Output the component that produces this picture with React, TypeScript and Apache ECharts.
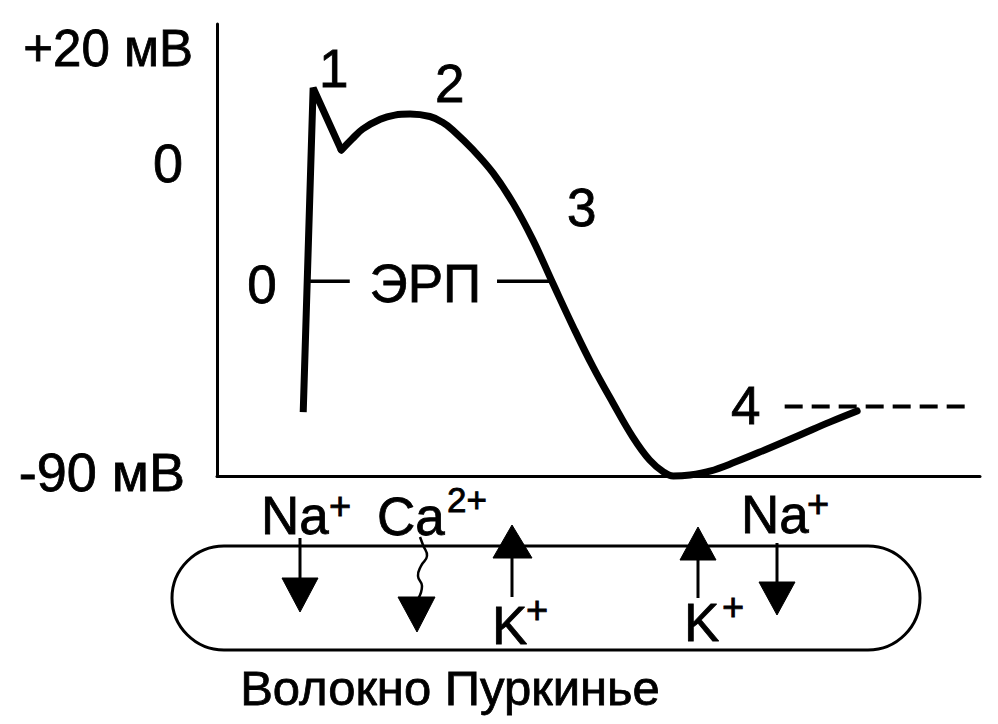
import React, { useEffect, useRef } from 'react';
import * as echarts from 'echarts';

const FONT = '"Liberation Sans", Arial, Helvetica, sans-serif';

// Purkinje fibre action potential: time (arbitrary units 0–100) vs membrane potential (mV)
const upstrokeAndNotch: [number, number][] = [
  [11.3, -71.6], [12.6, 21.6], [16.3, 3.7],
];
const plateauAndRepolarisation: [number, number][] = [
  [16.3, 3.7], [17.7, 6.9], [19.1, 9.8], [21.4, 12.6], [23.3, 13.8], [25.3, 14.1],
  [27.9, 13.4], [29.5, 11.8], [30.9, 9.5], [33.6, 3.7], [36.2, -2.9], [38.8, -11.5],
  [41.4, -22.1], [44.0, -34.5], [46.7, -47.2], [49.3, -58.7], [51.9, -69.0], [54.5, -78.8],
  [56.7, -85.4], [58.5, -88.8], [59.8, -90], [62.0, -89.7], [64.6, -88.6], [67.9, -86.0],
  [71.8, -82.5], [76.4, -78.2], [80.3, -74.5], [83.9, -71.3],
];
// Effective refractory period (ЭРП) markers
const erpLeft: [number, number][] = [[12.2, -34], [17.4, -34]];
const erpRight: [number, number][] = [[36.7, -34], [43.6, -34]];
// Threshold (dashed) line
const thresholdLine: [number, number][] = [[74.4, -70], [98.7, -70]];
// Phase labels
const annotationNames = ['0', '1', '2', '3', '4', 'ЭРП'];
const annotationPoints: [number, number][] = [
  [5.9, -34.8], [15.3, 27.3], [30.5, 23], [47.8, -12.9], [69.3, -69.6], [27.3, -34.5],
];
// Y tick labels
const yTickValues = [-90, 0, 33];
const yTickLabels = ['-90 мВ', '0', '+20 мВ'];

const X_MIN = 0;
const X_MAX = 100;
const Y_MIN = -90;
const Y_MAX = 40;

export default function App() {
  const ref = useRef<HTMLDivElement>(null);

  useEffect(() => {
    if (!ref.current) return;
    const chart = echarts.init(ref.current, undefined, { renderer: 'svg' });

    const black = '#000';
    const lineSeries = (data: [number, number][], width: number, extra: any = {}) => ({
      type: 'line',
      data,
      symbol: 'none',
      silent: true,
      clip: false,
      lineStyle: { color: black, width, ...(extra.lineStyle || {}) },
      ...Object.fromEntries(Object.entries(extra).filter(([k]) => k !== 'lineStyle')),
    });

    const txt = (text: string, x: number, y: number, size: number) => ({
      type: 'text',
      x,
      y,
      style: {
        text,
        fontSize: size,
        fontFamily: FONT,
        fill: black,
        stroke: black,
        lineWidth: 0.8,
        textAlign: 'left',
        textVerticalAlign: 'middle',
      },
    });
    const tri = (pts: number[][]) => ({
      type: 'polygon',
      shape: { points: pts },
      style: { fill: black, stroke: black, lineWidth: 1 },
    });
    const seg = (x1: number, y1: number, x2: number, y2: number, w = 3) => ({
      type: 'line',
      shape: { x1, y1, x2, y2 },
      style: { stroke: black, lineWidth: w },
    });

    const labelFont = { fontFamily: FONT, color: black, textBorderColor: black, textBorderWidth: 0.8 };

    const option: any = {
      animation: false,
      backgroundColor: '#fff',
      grid: { left: 217, right: 18, top: 24, bottom: 248, containLabel: false },
      xAxis: {
        type: 'value',
        min: X_MIN,
        max: X_MAX,
        axisLine: { show: true, onZero: false, lineStyle: { color: black, width: 3 } },
        axisTick: { show: false },
        axisLabel: { show: false },
        splitLine: { show: false },
      },
      yAxis: {
        type: 'value',
        min: Y_MIN,
        max: Y_MAX,
        axisLine: { show: true, onZero: false, lineStyle: { color: black, width: 3 } },
        axisTick: { show: false },
        splitLine: { show: false },
        axisLabel: {
          show: true,
          customValues: yTickValues,
          margin: 24,
          ...labelFont,
          fontSize: 52,
          formatter: (v: number) => {
            const i = yTickValues.indexOf(v);
            if (i < 0) return '';
            if (i === 0) return '{b|' + yTickLabels[i] + '}';
            if (i === 1) return '{z|' + yTickLabels[i] + '}';
            return '{t|' + yTickLabels[i] + '}';
          },
          rich: {
            t: { fontSize: 51, ...labelFont },
            z: { fontSize: 54, ...labelFont, padding: [0, 10, 0, 0] },
            b: { fontSize: 54, ...labelFont, padding: [0, 8, 8, 0] },
          },
        },
      },
      series: [
        lineSeries(upstrokeAndNotch, 7, { lineStyle: { join: 'miter', cap: 'butt' } }),
        lineSeries(plateauAndRepolarisation, 7, { smooth: 0.4, lineStyle: { cap: 'round', join: 'round' } }),
        lineSeries(erpLeft, 3.5),
        lineSeries(erpRight, 3.5),
        lineSeries(thresholdLine, 4, { lineStyle: { type: [18, 9] } }),
        {
          type: 'scatter',
          silent: true,
          symbolSize: 0,
          itemStyle: { opacity: 1, color: black },
          data: annotationPoints.map((p, i) => ({ name: annotationNames[i], value: p })),
          label: {
            show: true,
            position: 'inside',
            formatter: (p: any) => p.name,
            ...labelFont,
            fontSize: 53,
          },
        },
      ],
      graphic: [
        // membrane (fibre outline)
        {
          type: 'rect',
          shape: { x: 172, y: 546, width: 748, height: 104, r: 52 },
          style: { fill: 'none', stroke: black, lineWidth: 3 },
        },
        // Na+ (left) inward
        seg(300, 538, 300, 580),
        tri([[282, 578], [318, 578], [300, 612]]),
        txt('Na', 261, 515, 53),
        txt('+', 329, 506, 38),
        // Ca2+ inward (wavy)
        {
          type: 'polyline',
          shape: {
            points: [[420, 537], [423, 545], [427, 556], [421, 566], [418, 576], [422, 586], [418, 599]],
            smooth: 0.5,
          },
          style: { stroke: black, lineWidth: 2.5, fill: 'none' },
        },
        tri([[398, 597], [435, 597], [417, 632]]),
        txt('Ca', 377, 516, 53),
        txt('2+', 447, 499, 35),
        // K+ (left) outward
        seg(512, 556, 512, 597),
        tri([[493, 558], [532, 558], [512, 525]]),
        txt('K', 492, 625, 53),
        txt('+', 526, 610, 38),
        // K+ (right) outward
        seg(698, 558, 698, 598),
        tri([[680, 560], [716, 560], [698, 527]]),
        txt('K', 684, 622, 53),
        txt('+', 722, 607, 38),
        // Na+ (right) inward
        seg(777, 543, 777, 584),
        tri([[759, 582], [795, 582], [777, 615]]),
        txt('Na', 741, 514, 53),
        txt('+', 807, 504, 38),
        // title
        {
          type: 'text',
          x: 450,
          y: 688,
          style: {
            text: 'Волокно Пуркинье',
            fontSize: 49,
            fontFamily: FONT,
            fill: black,
            stroke: black,
            lineWidth: 0.8,
            textAlign: 'center',
            textVerticalAlign: 'middle',
          },
        },
      ],
    };

    chart.setOption(option);
    return () => chart.dispose();
  }, []);

  return (
    <div
      ref={ref}
      style={{ position: 'absolute', left: 0, top: 0, width: 998, height: 724, background: '#fff' }}
    />
  );
}
